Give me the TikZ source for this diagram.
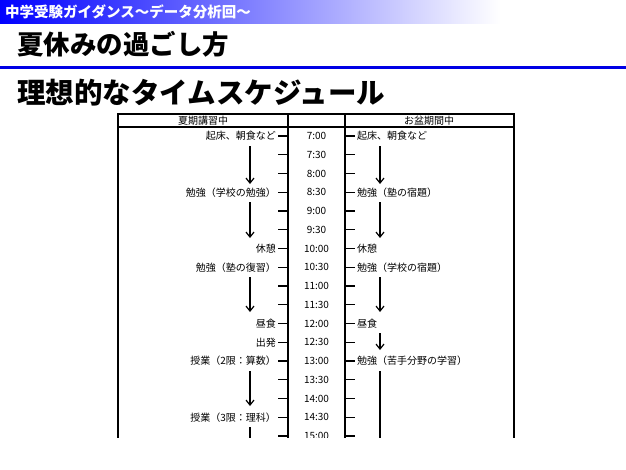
\documentclass[tikz,border=0pt]{standalone}
\usetikzlibrary{arrows.meta}
\usepackage{fontspec}
\setmainfont{Noto Sans CJK JP}
\begin{document}
\begin{tikzpicture}[x=1pt,y=-1pt,
  lbl/.style={font=\fontsize{10}{10}\selectfont,inner sep=0pt},
  arr/.style={-{Straight Barb[length=5pt,width=8pt]},line width=1.2pt},
  ln/.style={line width=1.2pt}]
\useasboundingbox (0,0) rectangle (626,469);
\shade[left color=blue,right color=white] (0,0) rectangle (500,23);
\node[anchor=west,text=white,font=\fontsize{14.5}{14.5}\selectfont\bfseries,inner sep=0pt] (hdr) at (5,12) {中学受験ガイダンス～データ分析回～};
\node[anchor=west,font=\fontsize{26.5}{26.5}\selectfont\bfseries,inner sep=0pt] (ttl) at (17,44) {夏休みの過ごし方};
\fill[blue!90!black] (0,65.5) rectangle (626,68.5);
\node[anchor=west,font=\fontsize{28.5}{28.5}\selectfont\bfseries,inner sep=0pt] (sub) at (17,93) {理想的なタイムスケジュール};
\begin{scope}
\clip (100,100) rectangle (530,437.5);
\draw[ln] (118,114) rectangle (514,460);
\draw[ln] (118,127) -- (514,127);
\draw[ln] (288,114) -- (288,460);
\draw[ln] (345,114) -- (345,460);
\node[lbl] (h1) at (203,120.5) {夏期講習中};
\node[lbl] (h2) at (429,120.5) {お盆期間中};
\foreach \t [count=\i from 0] in {7:00,7:30,8:00,8:30,9:00,9:30,10:00,10:30,11:00,11:30,12:00,12:30,13:00,13:30,14:00,14:30,15:00}{
  \node[lbl] (t\i) at (316.5,{136+\i*18.75}) {\t};
  \draw[ln] (278,{136+\i*18.75}) -- (288,{136+\i*18.75});
  \draw[ln] (345,{136+\i*18.75}) -- (355,{136+\i*18.75});
}
\foreach \i/\s in {0/起床、朝食など,3/勉強（学校の勉強）,6/休憩,7/勉強（塾の復習）,10/昼食,11/出発,12/授業（2限：算数）,15/授業（3限：理科）}
  \node[lbl,anchor=east] (L\i) at (276,{136+\i*18.75}) {\s};
\foreach \i/\s in {0/起床、朝食など,3/勉強（塾の宿題）,6/休憩,7/勉強（学校の宿題）,10/昼食,12/勉強（苦手分野の学習）}
  \node[lbl,anchor=west] (R\i) at (357,{136+\i*18.75}) {\s};
\foreach \x/\n in {250/a,380/b}{
  \coordinate (\n1s) at (\x,146); \coordinate (\n1e) at (\x,184);
  \coordinate (\n2s) at (\x,202); \coordinate (\n2e) at (\x,238);
  \coordinate (\n3s) at (\x,277); \coordinate (\n3e) at (\x,312);
}
\coordinate (a4s) at (250,371); \coordinate (a4e) at (250,406);
\coordinate (a5s) at (250,427); \coordinate (a5e) at (250,460);
\coordinate (b4s) at (380,333); \coordinate (b4e) at (380,350);
\coordinate (b5s) at (380,371); \coordinate (b5e) at (380,460);
\foreach \n in {a1,a2,a3,a4,b1,b2,b3,b4} \draw[arr] (\n s) -- (\n e);
\draw[ln] (a5s) -- (a5e);
\draw[ln] (b5s) -- (b5e);
\end{scope}
\end{tikzpicture}
\end{document}
